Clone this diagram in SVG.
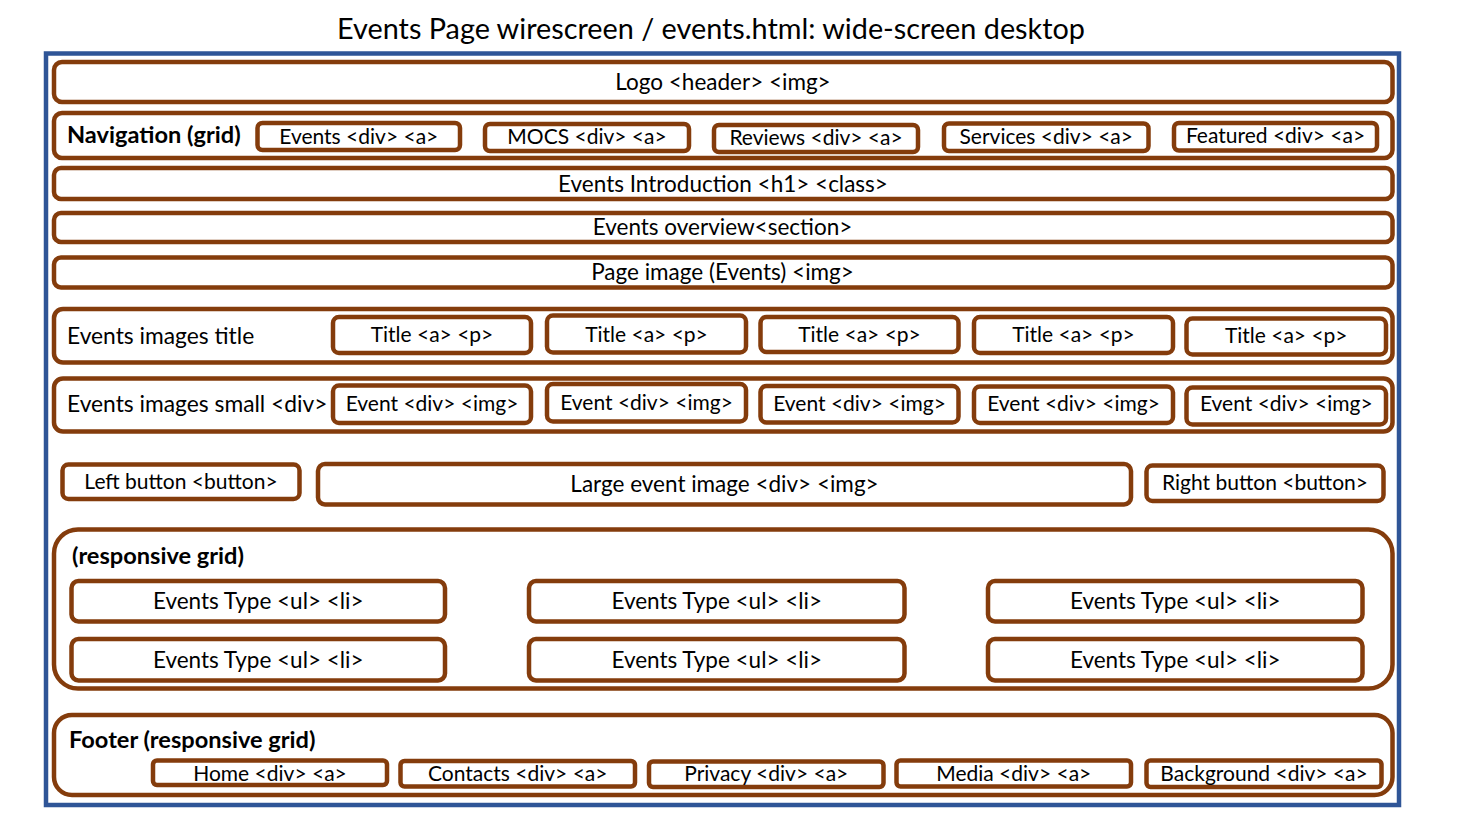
<svg xmlns="http://www.w3.org/2000/svg" width="1461" height="819" viewBox="0 0 1461 819">
<style>
.frame{fill:#fff;stroke:#2F5597;stroke-width:4.5}
.bar{fill:#fff;stroke:#843C0C;stroke-width:4.5}
.box{fill:#fff;stroke:#843C0C;stroke-width:4.5}
text{font-family:Lato,"Liberation Sans",sans-serif;fill:#000}
.m{font-size:22.5px;text-anchor:middle}
.s{font-size:21px;text-anchor:middle}
.l{font-size:22.8px;text-anchor:start}
.b{font-size:23.6px;font-weight:bold;text-anchor:start}
.ttl{font-size:28.8px;text-anchor:middle}
</style>
<rect width="1461" height="819" fill="#fff"/>
<text class="ttl" x="711" y="39">Events Page wirescreen / events.html: wide-screen desktop</text>
<g id="page">
<rect class="frame" x="46" y="53.5" width="1353" height="751.5"/>
</g>
<g id="logo">
<rect class="bar" x="54" y="62" width="1338.5" height="40" rx="8"/>
<text class="m" x="723" y="90">Logo &lt;header&gt; &lt;img&gt;</text>
</g>
<g id="navigation">
<rect class="bar" x="54" y="113" width="1338.5" height="45" rx="8"/>
<text class="b" x="67" y="143">Navigation (grid)</text>
<g id="nav-events"><rect class="box" x="257.5" y="123" width="202.5" height="27" rx="5"/><text class="s" x="358.75" y="143.5">Events &lt;div&gt; &lt;a&gt;</text></g>
<g id="nav-mocs"><rect class="box" x="485" y="124" width="204" height="27" rx="5"/><text class="s" x="587" y="143.5">MOCS &lt;div&gt; &lt;a&gt;</text></g>
<g id="nav-reviews"><rect class="box" x="714" y="125" width="204" height="27" rx="5"/><text class="s" x="816" y="144.5">Reviews &lt;div&gt; &lt;a&gt;</text></g>
<g id="nav-services"><rect class="box" x="944" y="123.5" width="204.5" height="27.5" rx="5"/><text class="s" x="1046.25" y="143.5">Services &lt;div&gt; &lt;a&gt;</text></g>
<g id="nav-featured"><rect class="box" x="1174" y="123" width="203" height="27.5" rx="5"/><text class="s" x="1275.5" y="142.5">Featured &lt;div&gt; &lt;a&gt;</text></g>
</g>
<g id="intro">
<rect class="bar" x="54" y="168" width="1338.5" height="31" rx="7"/>
<text class="m" x="723" y="191.5">Events Introduction &lt;h1&gt; &lt;class&gt;</text>
</g>
<g id="overview">
<rect class="bar" x="54" y="213" width="1338.5" height="29" rx="7"/>
<text class="m" x="722.5" y="235">Events overview&lt;section&gt;</text>
</g>
<g id="page-image">
<rect class="bar" x="54" y="257.5" width="1338.5" height="30" rx="7"/>
<text class="m" x="722.5" y="280">Page image (Events) &lt;img&gt;</text>
</g>
<g id="images-title">
<rect class="bar" x="54" y="309" width="1338.5" height="53.5" rx="9"/>
<text class="l" x="67" y="344">Events images title</text>
<g id="title-1"><rect class="box" x="333" y="317" width="198" height="36" rx="6"/><text class="s" x="432" y="342">Title &lt;a&gt; &lt;p&gt;</text></g>
<g id="title-2"><rect class="box" x="547" y="315.5" width="199" height="37" rx="6"/><text class="s" x="646.5" y="341.5">Title &lt;a&gt; &lt;p&gt;</text></g>
<g id="title-3"><rect class="box" x="760.5" y="317" width="198" height="35" rx="6"/><text class="s" x="859.5" y="342">Title &lt;a&gt; &lt;p&gt;</text></g>
<g id="title-4"><rect class="box" x="974" y="317" width="199" height="36" rx="6"/><text class="s" x="1073.5" y="342">Title &lt;a&gt; &lt;p&gt;</text></g>
<g id="title-5"><rect class="box" x="1186.5" y="318.5" width="199.5" height="36" rx="6"/><text class="s" x="1286.25" y="343">Title &lt;a&gt; &lt;p&gt;</text></g>
</g>
<g id="images-small">
<rect class="bar" x="54" y="378.5" width="1338.5" height="53" rx="9"/>
<text class="l" x="67" y="412">Events images small &lt;div&gt;</text>
<g id="event-1"><rect class="box" x="333" y="385.5" width="198" height="37.5" rx="6"/><text class="s" x="432" y="410.5">Event &lt;div&gt; &lt;img&gt;</text></g>
<g id="event-2"><rect class="box" x="547" y="384" width="199" height="37.5" rx="6"/><text class="s" x="646.5" y="409.5">Event &lt;div&gt; &lt;img&gt;</text></g>
<g id="event-3"><rect class="box" x="760.5" y="386" width="198" height="36.5" rx="6"/><text class="s" x="859.5" y="410.5">Event &lt;div&gt; &lt;img&gt;</text></g>
<g id="event-4"><rect class="box" x="974" y="386.5" width="199" height="36.5" rx="6"/><text class="s" x="1073.5" y="410.5">Event &lt;div&gt; &lt;img&gt;</text></g>
<g id="event-5"><rect class="box" x="1186.5" y="387.5" width="199.5" height="37" rx="6"/><text class="s" x="1286.25" y="411">Event &lt;div&gt; &lt;img&gt;</text></g>
</g>
<g id="left-button">
<rect class="box" x="62.5" y="464.5" width="237" height="34.5" rx="6"/>
<text class="s" x="181" y="489">Left button &lt;button&gt;</text>
</g>
<g id="large-image">
<rect class="box" x="318" y="464" width="813" height="40.5" rx="7"/>
<text class="m" x="724.5" y="492">Large event image &lt;div&gt; &lt;img&gt;</text>
</g>
<g id="right-button">
<rect class="box" x="1146.5" y="465.5" width="237" height="35.5" rx="6"/>
<text class="s" x="1265" y="490">Right button &lt;button&gt;</text>
</g>
<g id="responsive-grid">
<rect class="bar" x="54" y="529.5" width="1338.5" height="159" rx="24"/>
<text class="b" x="72" y="564">(responsive grid)</text>
<g id="type-1"><rect class="box" x="71.5" y="581" width="373.5" height="40.5" rx="7"/><text class="m" x="258.25" y="609">Events Type &lt;ul&gt; &lt;li&gt;</text></g>
<g id="type-2"><rect class="box" x="529" y="581" width="375.5" height="40.5" rx="7"/><text class="m" x="716.75" y="609">Events Type &lt;ul&gt; &lt;li&gt;</text></g>
<g id="type-3"><rect class="box" x="988" y="581" width="374.5" height="40.5" rx="7"/><text class="m" x="1175.25" y="609">Events Type &lt;ul&gt; &lt;li&gt;</text></g>
<g id="type-4"><rect class="box" x="71.5" y="639" width="373.5" height="41.5" rx="7"/><text class="m" x="258.25" y="667.5">Events Type &lt;ul&gt; &lt;li&gt;</text></g>
<g id="type-5"><rect class="box" x="529" y="639" width="375.5" height="41.5" rx="7"/><text class="m" x="716.75" y="667.5">Events Type &lt;ul&gt; &lt;li&gt;</text></g>
<g id="type-6"><rect class="box" x="988" y="639" width="374.5" height="41.5" rx="7"/><text class="m" x="1175.25" y="667.5">Events Type &lt;ul&gt; &lt;li&gt;</text></g>
</g>
<g id="footer">
<rect class="bar" x="54" y="715" width="1338.5" height="80" rx="18"/>
<text class="b" x="69" y="747.5">Footer (responsive grid)</text>
<g id="foot-home"><rect class="box" x="153" y="760.5" width="234" height="24.5" rx="4"/><text class="s" x="270" y="780.5">Home &lt;div&gt; &lt;a&gt;</text></g>
<g id="foot-contacts"><rect class="box" x="400.5" y="761" width="234.5" height="25.5" rx="4"/><text class="s" x="517.75" y="781">Contacts &lt;div&gt; &lt;a&gt;</text></g>
<g id="foot-privacy"><rect class="box" x="649" y="761.5" width="234.5" height="25.5" rx="4"/><text class="s" x="766.25" y="781">Privacy &lt;div&gt; &lt;a&gt;</text></g>
<g id="foot-media"><rect class="box" x="896.5" y="760.5" width="234.5" height="26" rx="4"/><text class="s" x="1013.75" y="781">Media &lt;div&gt; &lt;a&gt;</text></g>
<g id="foot-background"><rect class="box" x="1146.5" y="760.5" width="235" height="26.5" rx="4"/><text class="s" x="1264" y="781">Background &lt;div&gt; &lt;a&gt;</text></g>
</g>
<g id="connectors"></g>
</svg>
